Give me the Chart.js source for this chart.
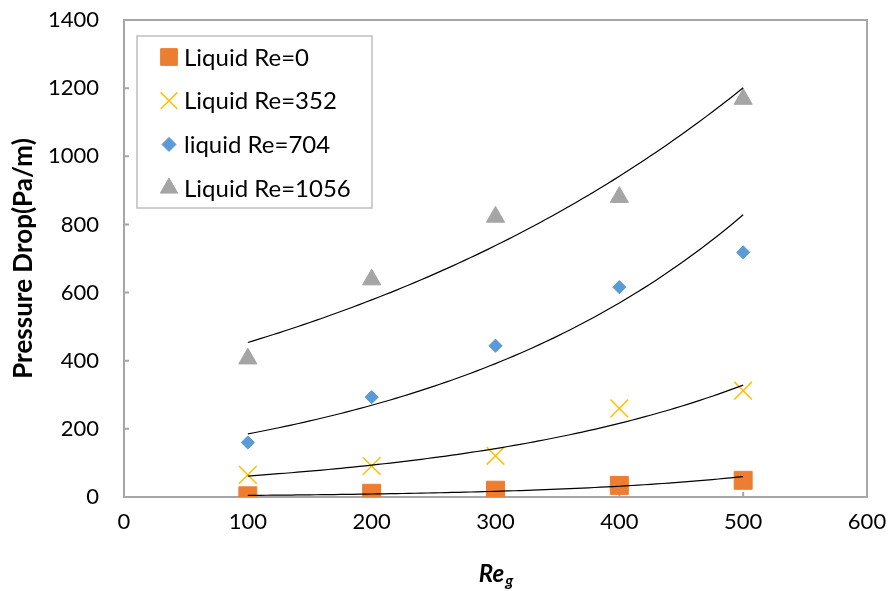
<!DOCTYPE html>
<html lang="en">
<head>
<meta charset="UTF-8" />
<title>Pressure drop vs gas Reynolds number</title>
<script src="https://cdn.jsdelivr.net/npm/chart.js@4.4.1/dist/chart.umd.min.js"></script>
<style>
  body { margin: 0; background: #fff; }
  .wrap { width: 892px; height: 591px; }
</style>
</head>
<body>
<div class="wrap"><canvas id="chart"></canvas></div>
<script>
  // gas Reynolds number
  const reGas = [100, 200, 300, 400, 500]
  const seriesNames = ['Liquid Re=0', 'Liquid Re=352', 'liquid Re=704', 'Liquid Re=1056']
  // pressure drop, Pa/m
  const dropRe0 = [3.5, 11, 20, 34, 49]
  const dropRe352 = [65, 91, 121, 260, 312]
  const dropRe704 = [160, 293, 444, 616, 718]
  const dropRe1056 = [406, 638, 822, 880, 1168]
  const xTicks = [0, 100, 200, 300, 400, 500, 600]
  const yTicks = [0, 200, 400, 600, 800, 1000, 1200, 1400]

  const FONT = 'Lato'

  // least squares fit of y = a*e^(bx) (done on ln y), like a spreadsheet trendline
  function expFit(xs, ys) {
    const n = xs.length
    const ly = ys.map(v => Math.log(v))
    const mx = xs.reduce((s, v) => s + v, 0) / n
    const my = ly.reduce((s, v) => s + v, 0) / n
    let num = 0, den = 0
    for (let i = 0; i < n; i++) {
      num += (xs[i] - mx) * (ly[i] - my)
      den += (xs[i] - mx) * (xs[i] - mx)
    }
    const b = num / den
    const a = Math.exp(my - b * mx)
    const pts = []
    for (let x = xs[0]; x <= xs[n - 1]; x += 5) pts.push({ x: x, y: a * Math.exp(b * x) })
    return pts
  }

  function pairs(ys) {
    return reGas.map((x, i) => ({ x: x, y: ys[i] }))
  }

  const markerSets = [
    { label: seriesNames[0], data: pairs(dropRe0), pointStyle: 'rect', pointRadius: 12.7,
      backgroundColor: '#ED7D31', borderColor: '#ED7D31', borderWidth: 1, legendRadius: 11.8 },
    { label: seriesNames[1], data: pairs(dropRe352), pointStyle: 'crossRot', pointRadius: 12.5,
      backgroundColor: '#FFC000', borderColor: '#FFC000', borderWidth: 1.5, legendRadius: 11.8 },
    { label: seriesNames[2], data: pairs(dropRe704), pointStyle: 'rectRot', pointRadius: 6.6,
      backgroundColor: '#5B9BD5', borderColor: '#5B9BD5', borderWidth: 1, legendRadius: 7 },
    { label: seriesNames[3], data: pairs(dropRe1056), pointStyle: 'triangle', pointRadius: 10.5,
      backgroundColor: '#A5A5A5', borderColor: '#A5A5A5', borderWidth: 1, legendRadius: 10 }
  ]
  markerSets.forEach(d => { d.order = 1; d.pointHoverRadius = d.pointRadius })

  const trendSets = [dropRe0, dropRe352, dropRe704, dropRe1056].map(ys => ({
    label: 'trend',
    data: expFit(reGas, ys),
    showLine: true,
    pointRadius: 0,
    borderColor: '#000',
    borderWidth: 1.2,
    fill: false,
    order: 0
  }))

  // plot frame and inward tick marks
  const frame = {
    id: 'frame',
    beforeDatasetsDraw(chart) {
      const { ctx, chartArea: a, scales: { x, y } } = chart
      ctx.save()
      ctx.strokeStyle = '#a6a6a6'
      ctx.lineWidth = 2
      ctx.strokeRect(a.left, a.top, a.right - a.left, a.bottom - a.top)
      ctx.beginPath()
      x.ticks.forEach(t => {
        const px = x.getPixelForValue(t.value)
        ctx.moveTo(px, a.bottom)
        ctx.lineTo(px, a.bottom - 5)
      })
      y.ticks.forEach(t => {
        const py = y.getPixelForValue(t.value)
        ctx.moveTo(a.left, py)
        ctx.lineTo(a.left + 5, py)
      })
      ctx.stroke()
      ctx.restore()
    }
  }

  // boxed legend inside the plot, plus the Re_g axis title with its subscript
  const extras = {
    id: 'extras',
    afterDraw(chart) {
      const { ctx, chartArea: a } = chart
      ctx.save()
      const left = a.left + 13, top = a.top + 16, w = 235, h = 172
      ctx.fillStyle = '#fff'
      ctx.fillRect(left, top, w, h)
      ctx.strokeStyle = '#bfbfbf'
      ctx.lineWidth = 1.5
      ctx.strokeRect(left, top, w, h)
      markerSets.forEach((d, i) => {
        const cy = top + 21 + i * 43.7
        ctx.fillStyle = d.backgroundColor
        ctx.strokeStyle = d.borderColor
        ctx.lineWidth = d.borderWidth
        Chart.helpers.drawPoint(ctx, { pointStyle: d.pointStyle, radius: d.legendRadius, borderWidth: d.borderWidth, rotation: 0 }, left + 32, cy)
        ctx.fillStyle = '#000'
        ctx.font = '24px ' + FONT
        ctx.textAlign = 'left'
        ctx.textBaseline = 'middle'
        ctx.fillText(d.label, left + 47, cy + 1)
      })

      const big = 'italic bold 24px ' + FONT
      const small = 'italic bold 16px ' + FONT
      ctx.font = big
      const w1 = ctx.measureText('Re').width
      ctx.font = small
      const w2 = ctx.measureText('g').width
      const x0 = (a.left + a.right) / 2 - (w1 + w2) / 2
      ctx.fillStyle = '#000'
      ctx.textBaseline = 'alphabetic'
      ctx.textAlign = 'left'
      ctx.font = big
      ctx.fillText('Re', x0, 582)
      ctx.font = small
      ctx.fillText('g', x0 + w1 + 1, 586)
      ctx.restore()
    }
  }

  const plain = v => String(v)

  new Chart(document.getElementById('chart'), {
    type: 'scatter',
    data: { datasets: trendSets.concat(markerSets) },
    options: {
      responsive: true,
      maintainAspectRatio: false,
      animation: false,
      events: [],
      layout: { padding: { top: 20, right: 25, left: 0, bottom: 0 } },
      plugins: { legend: { display: false }, tooltip: { enabled: false } },
      scales: {
        x: {
          type: 'linear',
          min: xTicks[0],
          max: xTicks[xTicks.length - 1],
          afterBuildTicks: s => { s.ticks = xTicks.map(v => ({ value: v })) },
          afterFit: s => { s.height = 94; s.paddingLeft = 0; s.paddingRight = 0 },
          grid: { display: false, drawTicks: false },
          border: { display: false },
          ticks: { color: '#000', font: { family: FONT, size: 22 }, padding: 12, callback: plain }
        },
        y: {
          type: 'linear',
          min: yTicks[0],
          max: yTicks[yTicks.length - 1],
          afterBuildTicks: s => { s.ticks = yTicks.map(v => ({ value: v })) },
          afterFit: s => { s.width = 124; s.paddingTop = 0; s.paddingBottom = 0 },
          grid: { display: false, drawTicks: false },
          border: { display: false },
          ticks: { color: '#000', font: { family: FONT, size: 22 }, padding: 25, callback: plain },
          title: {
            display: true,
            text: 'Pressure Drop(Pa/m)',
            color: '#000',
            font: { family: FONT, size: 26, weight: 'bold' },
            padding: { top: 8, bottom: 0 }
          }
        }
      }
    },
    plugins: [frame, extras]
  })
</script>
</body>
</html>
